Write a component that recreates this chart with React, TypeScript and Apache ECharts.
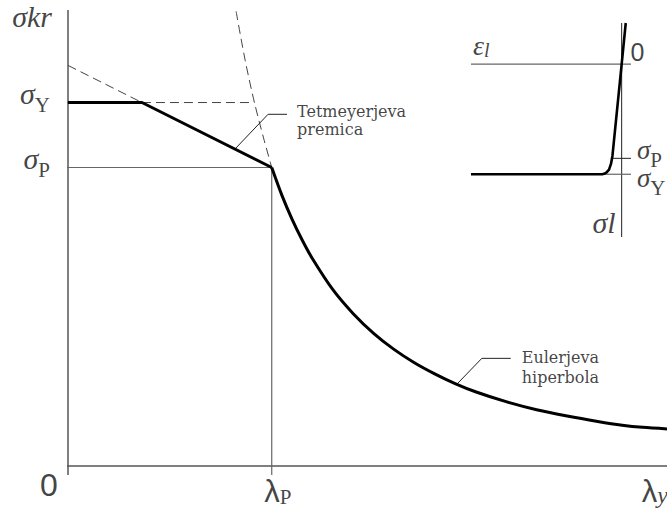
import React, { useEffect, useRef } from "react";
import * as echarts from "echarts";

// ---- Main diagram: critical buckling stress σkr versus slenderness λ ----
const lambdaP = 100; // proportional-limit slenderness
const lambdaY = 294; // right end of the λ axis
const sigmaY = 235; // yield stress
const sigmaP = 193; // proportional limit
const sigmaTop = 300;

// yield plateau followed by the Tetmajer straight line down to (λP, σP)
const plateauLambda = [0, 36.3, 100];
const plateauSigma = [235, 235, 193];

// dashed continuations
const tetmajerExtLambda = [0, 36.3];
const tetmajerExtSigma = [259, 235];
const yieldExtLambda = [36.3, 91.5];
const yieldExtSigma = [235, 235];
const eulerExtLambda = [82.5, 87, 91.5, 96, 100];
const eulerExtSigma = [294, 262, 235, 212, 193];

// Euler hyperbola beyond λP
const eulerLambda = [100, 105, 110, 115, 120, 130, 140, 150, 160, 170, 180, 190, 200, 215, 230, 245, 260, 272, 282, 294];
const eulerSigma = [193, 175, 159.5, 146, 134, 114, 98.5, 85.8, 75.4, 66.8, 59.6, 53.3, 48, 41.6, 36.4, 32.3, 28.8, 26.4, 25, 24];

// leader lines for the annotations
const tetmajerLeaderLambda = [82, 98.2, 107.5];
const tetmajerLeaderSigma = [205, 227.4, 227.4];
const eulerLeaderLambda = [190.8, 203.1, 217.3];
const eulerLeaderSigma = [52.8, 69.6, 69.6];

// ---- Inset: stress–strain diagram (ε in ‰) ----
const insetStrainMin = -0.96;
const insetStrainMax = 15.5;
const insetStressMin = -88;
const insetStressMax = 369;
const insetSigmaP = 201;
const insetSigmaY = 235;
const insetStrain = [-0.42, 0, 0.95, 1.1, 1.3, 1.55, 1.8, 2.0, 15.5];
const insetStress = [-88, 0, 196, 213, 225, 231, 234, 235, 235];

const zip = (a: number[], b: number[]) => a.map((v, i) => [v, b[i]]);

const serif = "Liberation Serif";
const sans = "Liberation Sans";
const noteFont = "DejaVu Serif";
const ink = "#111";

export default function App() {
  const ref = useRef<HTMLDivElement>(null);

  useEffect(() => {
    if (!ref.current) return;
    const chart = echarts.init(ref.current, null, { renderer: "svg" });

    const line = (
      data: number[][],
      color: string,
      width: number,
      opts: { dashed?: boolean; grid?: number; smooth?: boolean; z?: number } = {}
    ) => ({
      type: "line",
      data,
      xAxisIndex: opts.grid ?? 0,
      yAxisIndex: opts.grid ?? 0,
      symbol: "none",
      showSymbol: false,
      clip: false,
      silent: true,
      smooth: opts.smooth ? 0.3 : false,
      z: opts.z ?? 2,
      lineStyle: {
        color,
        width,
        type: opts.dashed ? [9, 5] : "solid",
        cap: "butt",
        join: "round",
      },
    });

    const sub = (size: number, italic = false) => ({
      fontFamily: serif,
      fontStyle: italic ? "italic" : "normal",
      fontSize: size,
      lineHeight: size,
      color: ink,
      verticalAlign: "bottom",
    });
    const greek = (size: number, padBottom: number, family = serif, italic = true) => ({
      fontFamily: family,
      fontStyle: italic ? "italic" : "normal",
      fontSize: size,
      lineHeight: size,
      padding: [0, 0, padBottom, 0],
      color: ink,
      verticalAlign: "bottom",
    });

    const tag = (
      value: number[],
      formatter: string,
      position: number[],
      align: string,
      verticalAlign: string,
      rich: any,
      extra: any = {}
    ) => ({
      value,
      label: { show: true, formatter, position, align, verticalAlign, rich, ...extra },
    });

    const note = (lh: number) => ({ fontFamily: noteFont, fontSize: 16, lineHeight: lh, color: ink });

    const mainLabels = [
      tag([0, sigmaTop], "{g|σkr}", [-16, 14.7], "right", "middle", { g: greek(30, 0) }),
      tag([0, sigmaY], "{g|σ}{s|Y}", [-18, -2], "right", "middle", { g: greek(30, 7), s: sub(21) }),
      tag([0, sigmaP], "{g|σ}{s|P}", [-18, -2], "right", "middle", { g: greek(30, 7), s: sub(21) }),
      tag([0, 0], "{z|0}", [-19, 19], "center", "middle", {
        z: { fontFamily: sans, fontSize: 32, lineHeight: 32, color: ink },
      }),
      tag([lambdaP, 0], "{g|λ}{s|P}", [6, 25.6], "center", "middle", {
        g: greek(31, 0, sans, false),
        s: sub(21),
      }),
      tag([lambdaY, 0], "{g|λ}{s|y}", [1, 25.6], "right", "middle", {
        g: greek(31, 0, sans, false),
        s: sub(24, true),
      }),
      tag([tetmajerLeaderLambda[2], tetmajerLeaderSigma[2]], "Tetmeyerjeva\npremica", [10, -11.3], "left", "top", {}, note(18)),
      tag([eulerLeaderLambda[2], eulerLeaderSigma[2]], "Eulerjeva\nhiperbola", [11, -11.3], "left", "top", {}, note(20)),
    ];

    const insetLabels = [
      tag([insetStrainMax, 0], "{g|ε}{s|l}", [2, -18.2], "left", "middle", {
        g: greek(28, 1),
        s: sub(20, true),
      }),
      tag([0, 0], "{z|0}", [15.8, -12.2], "center", "middle", {
        z: { fontFamily: sans, fontSize: 25, lineHeight: 25, color: ink },
      }),
      tag([insetStrainMin, insetSigmaP], "{g|σ}{s|P}", [6, -1.6], "left", "middle", {
        g: greek(27, 7),
        s: sub(21),
      }),
      tag([insetStrainMin, insetSigmaY], "{g|σ}{s|Y}", [6, 10.4], "left", "middle", {
        g: greek(27, 7),
        s: sub(21),
      }),
      tag([0, insetStressMax], "{g|σl}", [-6, -15], "right", "middle", { g: greek(30, 0) }),
    ];

    const gray = "#666";
    const dash = "#444";

    chart.setOption({
      animation: false,
      grid: [
        { left: 68, right: 0, top: 2, bottom: 45 },
        { left: 471, right: 36, top: 23, bottom: 274 },
      ],
      xAxis: [
        { type: "value", min: 0, max: lambdaY, show: false },
        { type: "value", min: insetStrainMin, max: insetStrainMax, inverse: true, show: false, gridIndex: 1 },
      ],
      yAxis: [
        { type: "value", min: 0, max: sigmaTop, show: false },
        { type: "value", min: insetStressMin, max: insetStressMax, inverse: true, show: false, gridIndex: 1 },
      ],
      series: [
        // axes of the main diagram
        line([[0, -5.8], [0, 294.8]], "#000", 1),
        line([[-5.8, 0], [lambdaY, 0]], "#555", 1.6),
        // reference lines at σY, σP and λP
        line([[-5, sigmaY], [0, sigmaY]], gray, 1.2),
        line([[-5, sigmaP], [lambdaP, sigmaP]], gray, 1.2),
        line([[lambdaP, -5.8], [lambdaP, sigmaP]], gray, 1.2),
        // dashed continuations
        line(zip(tetmajerExtLambda, tetmajerExtSigma), dash, 1, { dashed: true }),
        line(zip(yieldExtLambda, yieldExtSigma), dash, 1, { dashed: true }),
        line(zip(eulerExtLambda, eulerExtSigma), dash, 1, { dashed: true, smooth: true }),
        // leaders
        line(zip(tetmajerLeaderLambda, tetmajerLeaderSigma), "#222", 1),
        line(zip(eulerLeaderLambda, eulerLeaderSigma), "#222", 1),
        // critical stress curve
        line(zip(plateauLambda, plateauSigma), "#000", 3, { z: 5 }),
        line(zip(eulerLambda, eulerSigma), "#000", 3, { smooth: true, z: 5 }),
        {
          type: "scatter",
          data: mainLabels,
          symbolSize: 0,
          silent: true,
          clip: false,
          z: 10,
        },

        // inset: axes and reference ticks
        line([[insetStrainMax, 0], [insetStrainMin, 0]], gray, 1.2, { grid: 1 }),
        line([[0, insetStressMin], [0, insetStressMax]], "#222", 1, { grid: 1 }),
        line([[1.9, insetSigmaY], [insetStrainMin, insetSigmaY]], gray, 1.2, { grid: 1 }),
        line([[0.98, insetSigmaP], [insetStrainMin, insetSigmaP]], "#222", 1, { grid: 1 }),
        line(zip(insetStrain, insetStress), "#000", 2.6, { grid: 1, z: 5 }),
        {
          type: "scatter",
          data: insetLabels,
          xAxisIndex: 1,
          yAxisIndex: 1,
          symbolSize: 0,
          silent: true,
          clip: false,
          z: 10,
        },
      ],
    });

    return () => chart.dispose();
  }, []);

  return (
    <div
      ref={ref}
      style={{ position: "absolute", left: 0, top: 0, width: 667, height: 511, background: "#fff" }}
    />
  );
}
